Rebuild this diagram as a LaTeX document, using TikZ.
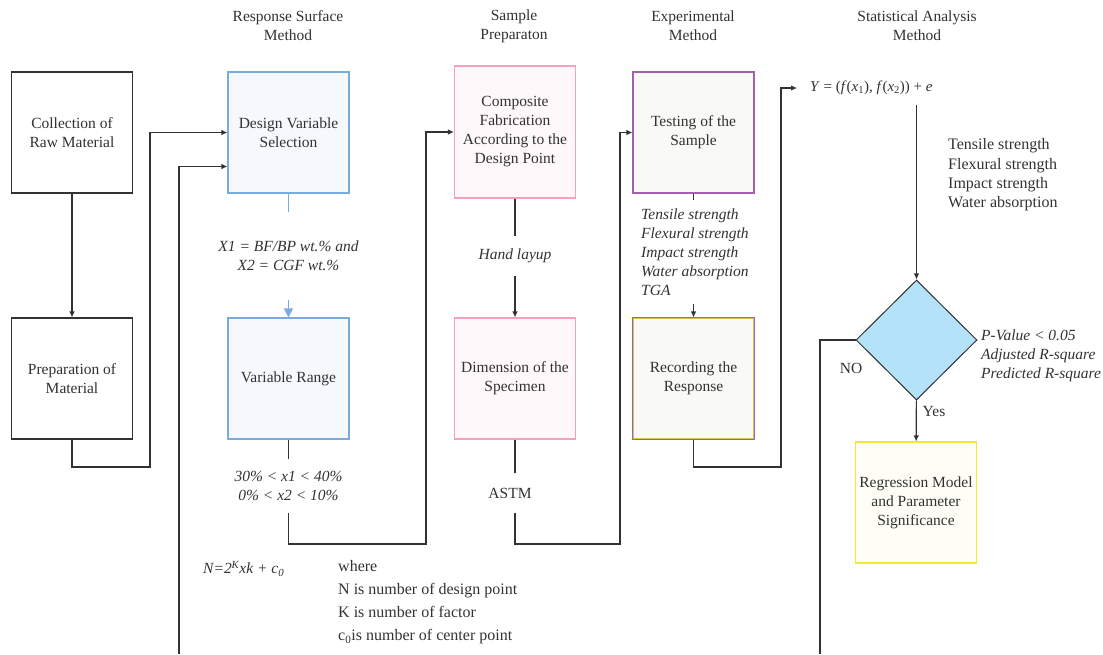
\documentclass[tikz,border=0pt]{standalone}
\usepackage{fontspec}
\setmainfont{Liberation Serif}
\usepackage{tikz}
\usetikzlibrary{arrows.meta,positioning,shapes.geometric,calc}
\definecolor{txtgray}{RGB}{50,50,50}
\definecolor{rsmblue}{RGB}{120,172,222}
\definecolor{rsmfill}{RGB}{245,249,253}
\definecolor{prppink}{RGB}{244,160,190}
\definecolor{prpfill}{RGB}{254,248,250}
\definecolor{expviolet}{RGB}{165,95,175}
\definecolor{expfill}{RGB}{249,250,246}
\definecolor{recolive}{RGB}{200,200,80}
\definecolor{decblue}{RGB}{180,226,248}
\definecolor{regyellow}{RGB}{245,232,50}
\definecolor{regfill}{RGB}{255,254,246}

\begin{document}
\begin{tikzpicture}[x=1pt, y=-1pt,
  font=\fontsize{15.5}{19}\selectfont, text=txtgray,
  box/.style={rectangle, draw=txtgray, line width=1.1pt, fill=white,
              minimum width=121pt, minimum height=121pt, align=center, inner sep=2pt},
  rsm/.style={box, draw=rsmblue, fill=rsmfill},
  prp/.style={box, draw=prppink, fill=prpfill},
  exp/.style={box, draw=expviolet, fill=expfill},
  reg/.style={box, draw=regyellow, fill=regfill},
  dec/.style={diamond, draw=txtgray, fill=decblue, line width=1pt,
              minimum width=121pt, minimum height=120pt, inner sep=0pt},
  hdr/.style={align=center, inner sep=0pt},
  txt/.style={align=center, inner sep=0pt},
  lab/.style={align=center, inner sep=0pt, font=\itshape\fontsize{15.5}{19}\selectfont},
  line/.style={line width=1.1pt, draw=txtgray},
  arr/.style={-{Latex[length=6pt,width=5.5pt]}, line width=1.1pt, draw=txtgray},
  bline/.style={line width=1.1pt, draw=rsmblue},
  barr/.style={-{Triangle[length=9pt,width=9pt]}, line width=1.1pt, draw=rsmblue},
]
\useasboundingbox (0,0) rectangle (1103,654);

\node[hdr] (hrsm) at (288,26) {Response Surface\\Method};
\node[hdr] (hprp) at (514,26) {Sample\\Preparaton};
\node[hdr] (hexp) at (693,26) {Experimental\\Method};
\node[hdr] (hsta) at (917,26) {Statistical Analysis\\Method};

\node[box] (raw) at (72,132.5) {Collection of\\Raw Material};
\node[box] (prep) at (72,378.5) {Preparation of\\Material};
\node[rsm] (dvs) at (288.5,132.5) {Design Variable\\Selection};
\node[rsm] (vrange) at (288.5,378.5) {Variable Range};
\node[prp, minimum height=132pt] (fab) at (515,132) {Composite\\Fabrication\\According to the\\Design Point};
\node[prp] (dim) at (515,378.5) {Dimension of the\\Specimen};
\node[exp] (test) at (693.5,132.5) {Testing of the\\Sample};
\node[exp] (rec) at (693.5,378.5) {Recording the\\Response};
\draw[recolive, line width=0.8pt] ([xshift=1.4pt,yshift=-1.4pt]rec.north west)
  rectangle ([xshift=-1.4pt,yshift=1.4pt]rec.south east);
\node[dec] (crit) at (916.5,340) {};
\node[reg] (regm) at (916,502.5) {Regression Model\\and Parameter\\Significance};

\node[lab, minimum height=88pt] (xlab) at (288.5,256) {X1 = BF/BP wt.\% and\\X2 = CGF wt.\%};
\node[lab, minimum height=54pt] (rlab) at (288.5,486) {30\% < x1 < 40\%\\0\% < x2 < 10\%};
\node[lab, minimum height=40pt] (hand) at (515,256) {Hand layup};
\node[txt, minimum height=40pt] (astm) at (510,493) {ASTM};
\node[lab, align=left, anchor=west, minimum height=104pt] (tlist) at (641,252)
  {Tensile strength\\Flexural strength\\Impact strength\\Water absorption\\TGA};
\node[txt, anchor=west, inner xsep=13pt, minimum height=34pt, font=\fontsize{15}{19}\selectfont] (eqn) at (797,88)
  {\textit{Y} = (\textit{f}(\textit{x}\textsubscript{1}), \textit{f}(\textit{x}\textsubscript{2})) + \textit{e}};
\node[txt, align=left, anchor=west, font=\fontsize{16}{19.3}\selectfont] (resp) at (948,175)
  {Tensile strength\\Flexural strength\\Impact strength\\Water absorption};
\node[lab, align=left, anchor=west] (pval) at (981,356) {P-Value < 0.05\\Adjusted R-square\\Predicted R-square};
\node[txt] (nolab) at (851,368) {NO};
\node[txt] (yeslab) at (934,411) {Yes};
\node[lab, anchor=west] (nform) at (203,569) {N=2\textsuperscript{K}xk + c\textsubscript{0}};
\node[txt, align=left, anchor=west, font=\fontsize{16}{23}\selectfont] (where) at (338,602.5)
  {where\\N is number of design point\\K is number of factor\\c\textsubscript{0}is number of center point};

\coordinate (k1) at (150,467);
\coordinate (k2) at (179,654);
\coordinate (k3) at (426,544);
\coordinate (k4) at (620,544);
\coordinate (k5) at (781,467);
\coordinate (k6) at (820,654);

\draw[arr] (raw) -- (prep);
\draw[arr] (prep.south) |- (k1) |- (dvs.west);
\draw[arr] (k2) |- ([yshift=-34pt]dvs.west);
\draw[bline] (dvs) -- (dvs.south |- xlab.north);
\draw[barr] (dvs.south |- xlab.south) -- (vrange);
\draw[line] (vrange) -- (vrange.south |- rlab.north);
\draw[arr] (vrange.south |- rlab.south) |- (k3) |- (fab.west);
\draw[line] (fab) -- (fab.south |- hand.north);
\draw[arr] (fab.south |- hand.south) -- (dim);
\draw[line] (dim) -- (dim.south |- astm.north);
\draw[arr] (dim.south |- astm.south) |- (k4) |- (test.west);
\draw[line] (test) -- (test.south |- tlist.north);
\draw[arr] (test.south |- tlist.south) -- (rec);
\draw[arr] (rec.south) |- (k5) |- (eqn.west);
\draw[arr] (crit.north |- eqn.south) -- (crit);
\draw[arr] (crit) -- (regm);
\draw[line] (crit.west) -| (k6);
\end{tikzpicture}
\end{document}
